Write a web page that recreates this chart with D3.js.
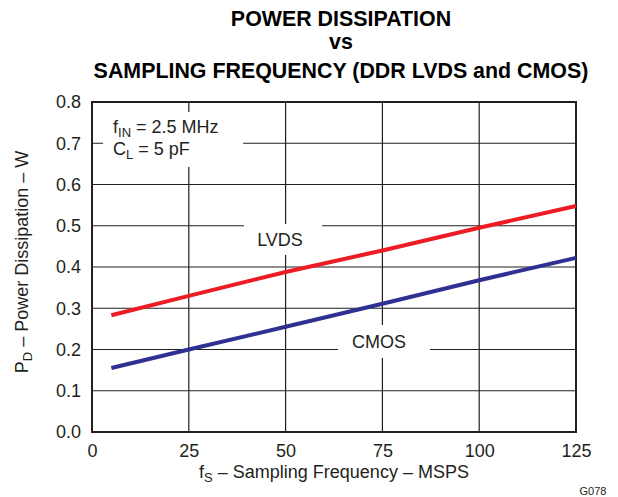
<!DOCTYPE html>
<html>
<head>
<meta charset="utf-8">
<script src="https://cdn.jsdelivr.net/npm/d3@7"></script>
<style>
  body { margin: 0; background: #fff; }
  text { font-family: "Liberation Sans", Arial, sans-serif; fill: #231f20; }
</style>
</head>
<body>
<svg id="chart" width="618" height="497"></svg>
<script>
const freqLVDS = [5, 25, 50, 75, 100, 125];
const powerLVDS = [0.283, 0.330, 0.388, 0.440, 0.495, 0.548];
const freqCMOS = [5, 25, 50, 75, 100, 125];
const powerCMOS = [0.155, 0.200, 0.255, 0.311, 0.368, 0.422];
const xTicks = [0, 25, 50, 75, 100, 125];
const yTicks = [0.0, 0.1, 0.2, 0.3, 0.4, 0.5, 0.6, 0.7, 0.8];
const titleLines = ["POWER DISSIPATION", "vs", "SAMPLING FREQUENCY (DDR LVDS and CMOS)"];

const svg = d3.select("#chart");
const L = 92, R = 576, T = 102, B = 432;
const x = d3.scaleLinear().domain([0, 125]).range([L, R]);
const y = d3.scaleLinear().domain([0, 0.8]).range([B, T]);

// title
const titleY = [26, 49, 78];
titleLines.forEach((t, i) => {
  svg.append("text").attr("x", 341).attr("y", titleY[i])
    .attr("text-anchor", "middle").attr("font-size", 21.4).attr("font-weight", "bold")
    .style("fill", "#000").text(t);
});

// grid
const grid = svg.append("g").attr("stroke", "#231f20").attr("stroke-width", 1.2);
xTicks.slice(1, -1).forEach(v => {
  grid.append("line").attr("x1", x(v)).attr("x2", x(v)).attr("y1", T).attr("y2", B);
});
yTicks.slice(1, -1).forEach(v => {
  grid.append("line").attr("x1", L).attr("x2", R).attr("y1", y(v)).attr("y2", y(v));
});

// white label boxes
const boxes = [[103, 112, 140, 55], [244, 224, 78, 31], [338, 325, 92, 33]];
boxes.forEach(b => svg.append("rect").attr("x", b[0]).attr("y", b[1]).attr("width", b[2]).attr("height", b[3]).attr("fill", "#fff"));

// frame
svg.append("rect").attr("x", L).attr("y", T).attr("width", R - L).attr("height", B - T)
  .attr("fill", "none").attr("stroke", "#231f20").attr("stroke-width", 2);

// axes (labels only)
const xAxis = d3.axisBottom(x).tickValues(xTicks).tickSize(0).tickPadding(12).tickFormat(d3.format("d"));
const gx = svg.append("g").attr("transform", `translate(0,${B})`).call(xAxis);
gx.select(".domain").remove();
gx.selectAll("text").attr("font-size", 18).style("font-family", "Liberation Sans, Arial, sans-serif").style("fill", "#231f20");

const yAxis = d3.axisLeft(y).tickValues(yTicks).tickSize(0).tickPadding(11).tickFormat(d3.format(".1f"));
const gy = svg.append("g").attr("transform", `translate(${L},0)`).call(yAxis);
gy.select(".domain").remove();
gy.selectAll("text").attr("font-size", 18).style("font-family", "Liberation Sans, Arial, sans-serif").style("fill", "#231f20");

// lines
const line = d3.line().x(d => x(d[0])).y(d => y(d[1]));
svg.append("path").datum(d3.zip(freqLVDS, powerLVDS)).attr("d", line)
  .attr("fill", "none").attr("stroke", "#ed1c24").attr("stroke-width", 4);
svg.append("path").datum(d3.zip(freqCMOS, powerCMOS)).attr("d", line)
  .attr("fill", "none").attr("stroke", "#2e3192").attr("stroke-width", 4);

// series labels
svg.append("text").attr("x", 280).attr("y", 246).attr("text-anchor", "middle").attr("font-size", 18).text("LVDS");
svg.append("text").attr("x", 379).attr("y", 348).attr("text-anchor", "middle").attr("font-size", 18).text("CMOS");

// annotation
const a1 = svg.append("text").attr("x", 113).attr("y", 133).attr("font-size", 18);
a1.append("tspan").text("f");
a1.append("tspan").attr("font-size", 13).attr("dy", 4).text("IN");
a1.append("tspan").attr("dy", -4).text(" = 2.5 MHz");
const a2 = svg.append("text").attr("x", 113).attr("y", 155).attr("font-size", 18);
a2.append("tspan").text("C");
a2.append("tspan").attr("font-size", 13).attr("dy", 4).text("L");
a2.append("tspan").attr("dy", -4).text(" = 5 pF");

// axis titles
const xt = svg.append("text").attr("x", 334).attr("y", 478).attr("text-anchor", "middle").attr("font-size", 18);
xt.append("tspan").text("f");
xt.append("tspan").attr("font-size", 13).attr("dy", 4).text("S");
xt.append("tspan").attr("dy", -4).text(" – Sampling Frequency – MSPS");

const yt = svg.append("text").attr("transform", "translate(28,262) rotate(-90)").attr("text-anchor", "middle").attr("font-size", 18);
yt.append("tspan").text("P");
yt.append("tspan").attr("font-size", 13).attr("dy", 4).text("D");
yt.append("tspan").attr("dy", -4).text(" – Power Dissipation – W");

svg.append("text").attr("x", 593).attr("y", 495).attr("text-anchor", "middle").attr("font-size", 11).text("G078");
</script>
</body>
</html>
